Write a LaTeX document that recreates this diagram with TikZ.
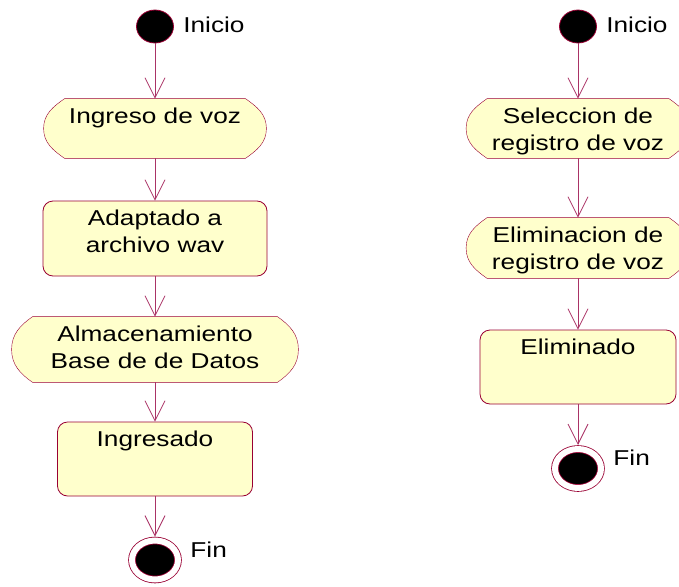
\documentclass[tikz,border=0pt]{standalone}
\usepackage{fontspec}
\setmainfont{Liberation Sans}[FakeStretch=1.22]
\usetikzlibrary{shapes.geometric,arrows.meta,backgrounds}

\definecolor{borde}{RGB}{153,0,51}
\definecolor{flechac}{RGB}{170,51,102}
\definecolor{relleno}{RGB}{255,255,204}

\tikzset{
  inicio/.style={ellipse, draw=borde, fill=black, minimum width=37pt, minimum height=33pt, inner sep=0pt},
  fin/.style={ellipse, draw=borde, double=white, double distance=6pt, fill=black,
    minimum width=46pt, minimum height=39pt, inner sep=0pt, outer sep=4pt},
  caja/.style={rectangle, rounded corners=10pt, draw=borde, fill=relleno, inner sep=0pt},
  hexa/.style={rectangle, inner sep=0pt},
  rotulo/.style={label={[anchor=north, yshift=-9pt, align=center]north:#1}},
  flecha/.style={draw=flechac, -{Straight Barb[length=20pt,width=20pt]}},
  every label/.style={inner sep=0pt},
}

\begin{document}
\begin{tikzpicture}[x=1pt, y=1pt, line width=0.8pt, font=\fontsize{21.5}{27}\selectfont]
  \def\L{155}
  \def\R{578}
  \useasboundingbox (0,0) rectangle (679,-586);

  % columna izquierda
  \node[inicio, label={[label distance=9pt, yshift=2pt]right:Inicio}] (inicio1) at (\L,-26.5) {};
  \node[hexa, minimum width=222pt, minimum height=59pt, rotulo={Ingreso de voz}] (ingreso) at (\L,-128.5) {};
  \node[caja, minimum width=224pt, minimum height=75pt, rotulo={Adaptado a\\archivo wav}] (adaptado) at (\L,-238.5) {};
  \node[hexa, minimum width=286pt, minimum height=65pt, rotulo={Almacenamiento\\Base de de Datos}] (almacen) at (\L,-349.5) {};
  \node[caja, minimum width=195pt, minimum height=74pt, rotulo={Ingresado}] (ingresado) at (\L,-459) {};
  \node[fin, label={[label distance=8pt, yshift=10pt]right:Fin}] (fin1) at (\L,-560) {};

  % columna derecha
  \node[inicio, label={[label distance=9pt, yshift=2pt]right:Inicio}] (inicio2) at (\R,-26.5) {};
  \node[hexa, minimum width=223pt, minimum height=59pt, rotulo={Seleccion de\\registro de voz}] (seleccion) at (\R,-128.5) {};
  \node[hexa, minimum width=223pt, minimum height=60pt, rotulo={Eliminacion de\\registro de voz}] (eliminacion) at (\R,-248) {};
  \node[caja, minimum width=196pt, minimum height=74pt, rotulo={Eliminado}] (eliminado) at (\R,-367) {};
  \node[fin, label={[label distance=8pt, yshift=11pt]right:Fin}] (fin2) at (\R,-468.5) {};

  \begin{scope}[on background layer]
    \foreach \n in {ingreso,almacen,seleccion,eliminacion}
      \filldraw[draw=borde, fill=relleno] ([xshift=21pt]\n.north west) -- ([xshift=-21pt]\n.north east)
        to[out=-35,in=90] (\n.east) to[out=-90,in=35] ([xshift=-21pt]\n.south east)
        -- ([xshift=21pt]\n.south west) to[out=145,in=-90] (\n.west)
        to[out=90,in=-145] ([xshift=21pt]\n.north west) -- cycle;
  \end{scope}

  \foreach \a/\b in {inicio1/ingreso,ingreso/adaptado,adaptado/almacen,almacen/ingresado,ingresado/fin1,
                     inicio2/seleccion,seleccion/eliminacion,eliminacion/eliminado,eliminado/fin2}
    \draw[flecha] (\a) -- (\b);
\end{tikzpicture}
\end{document}
